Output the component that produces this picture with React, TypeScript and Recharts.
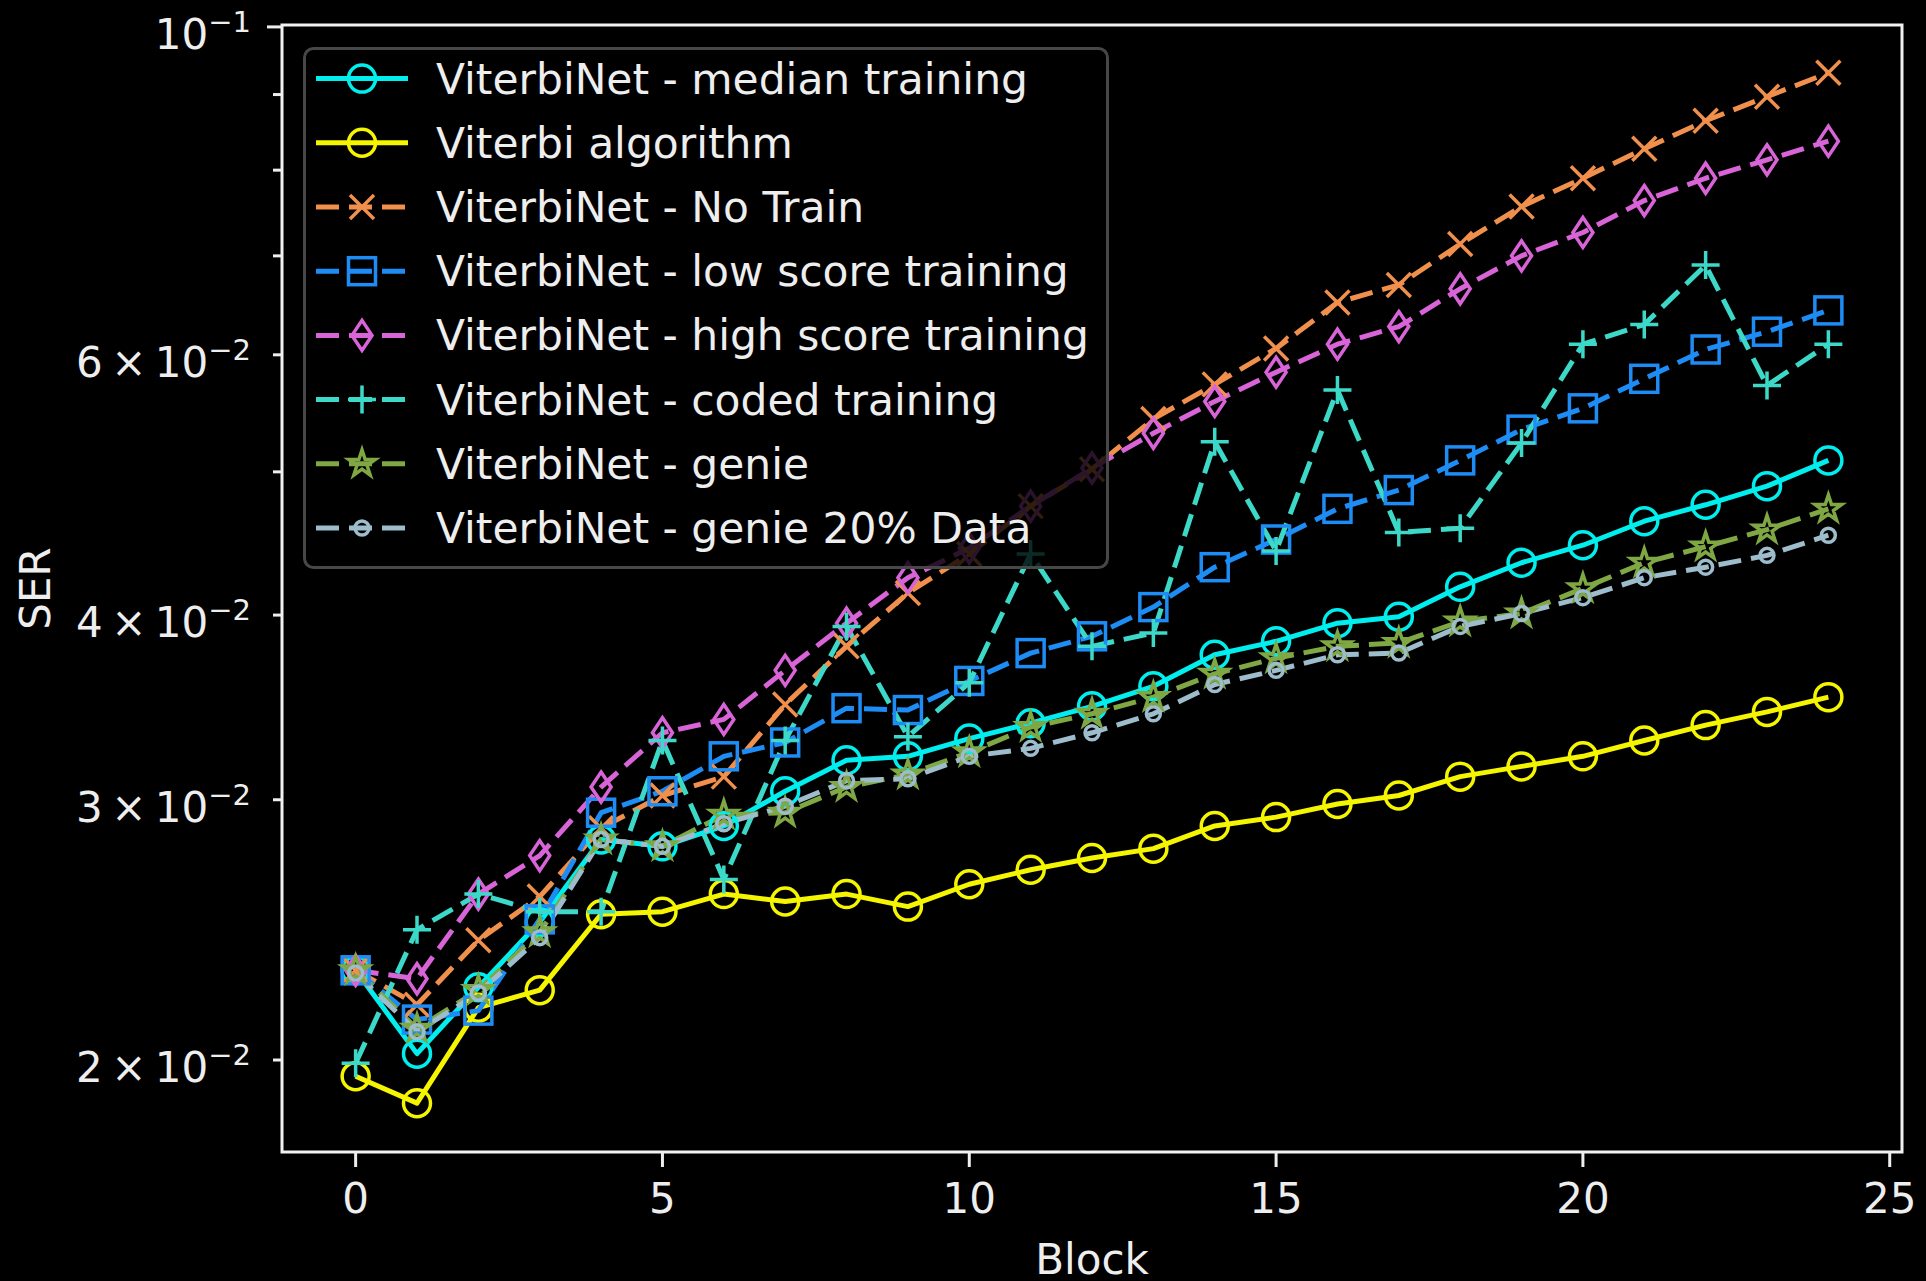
import React from "react";
import { LineChart, Line, XAxis, YAxis, ReferenceArea, Legend, Label } from "recharts";

const blocks = [0, 1, 2, 3, 4, 5, 6, 7, 8, 9, 10, 11, 12, 13, 14, 15, 16, 17, 18, 19, 20, 21, 22, 23, 24];

const medianTraining = [0.023, 0.0202, 0.0224, 0.0248, 0.0282, 0.0279, 0.0288, 0.0304, 0.0319, 0.0321, 0.033, 0.0338, 0.0347, 0.0358, 0.0376, 0.0384, 0.0395, 0.0399, 0.0418, 0.0434, 0.0446, 0.0463, 0.0475, 0.0489, 0.0509];
const viterbiAlgorithm = [0.0195, 0.0187, 0.0217, 0.0223, 0.0251, 0.0252, 0.0259, 0.0256, 0.0259, 0.0254, 0.0263, 0.0269, 0.0274, 0.0278, 0.0288, 0.0292, 0.0298, 0.0302, 0.0311, 0.0316, 0.0321, 0.0329, 0.0337, 0.0344, 0.0352];
const noTrain = [0.023, 0.0218, 0.0241, 0.0258, 0.0287, 0.0302, 0.0311, 0.0348, 0.0381, 0.0414, 0.044, 0.0474, 0.0502, 0.0543, 0.0573, 0.0606, 0.0651, 0.0669, 0.0713, 0.0756, 0.079, 0.0827, 0.0864, 0.0897, 0.0931];
const lowScore = [0.023, 0.0213, 0.0216, 0.0249, 0.0294, 0.0304, 0.0321, 0.0328, 0.0346, 0.0345, 0.0361, 0.0377, 0.0387, 0.0405, 0.0431, 0.045, 0.0472, 0.0486, 0.0509, 0.0534, 0.0552, 0.0578, 0.0605, 0.0622, 0.0643];
const highScore = [0.023, 0.0227, 0.0259, 0.0275, 0.0306, 0.0333, 0.034, 0.0367, 0.0395, 0.0424, 0.0444, 0.0474, 0.0503, 0.0531, 0.0558, 0.0584, 0.061, 0.0627, 0.0665, 0.07, 0.0726, 0.0763, 0.079, 0.0813, 0.0837];
const codedTraining = [0.0199, 0.0245, 0.0259, 0.0252, 0.0252, 0.0329, 0.0265, 0.0329, 0.0393, 0.0331, 0.036, 0.044, 0.0381, 0.0389, 0.0524, 0.0442, 0.0568, 0.0455, 0.0458, 0.0523, 0.061, 0.0629, 0.069, 0.0572, 0.061];
const genie = [0.023, 0.021, 0.0223, 0.0244, 0.0282, 0.0279, 0.0293, 0.0294, 0.0306, 0.0312, 0.0323, 0.0336, 0.0343, 0.0352, 0.0365, 0.0374, 0.0381, 0.0383, 0.0396, 0.0401, 0.0417, 0.0434, 0.0445, 0.0457, 0.0472];
const genie20 = [0.0229, 0.0209, 0.0222, 0.0242, 0.0282, 0.0279, 0.0289, 0.0297, 0.0309, 0.031, 0.0321, 0.0325, 0.0333, 0.0343, 0.0359, 0.0367, 0.0376, 0.0377, 0.0393, 0.0401, 0.0411, 0.0424, 0.0431, 0.0439, 0.0453];

const xTicks = [0, 5, 10, 15, 20, 25];
const yTicks = [0.02, 0.03, 0.04, 0.05, 0.06, 0.07, 0.08, 0.09, 0.1];
// [mantissa text, exponent] or null for unlabelled minor ticks
const yTickLabels: ([string, string] | null)[] = [
  ["2\u2009×\u200910", "−2"],
  ["3\u2009×\u200910", "−2"],
  ["4\u2009×\u200910", "−2"],
  null,
  ["6\u2009×\u200910", "−2"],
  null,
  null,
  null,
  ["10", "−1"],
];

const X_DOMAIN = [-1.2, 25.2];
const Y_DOMAIN = [0.01733, 0.1003];

const FONT = "'DejaVu Sans', Verdana, sans-serif";
const FG = "#eeeeee";

type MarkerKind = "circle" | "x" | "square" | "diamond" | "plus" | "star" | "dot";

const SERIES: { key: string; name: string; color: string; dashed: boolean; marker: MarkerKind; values: number[] }[] = [
  { key: "median", name: "ViterbiNet - median training", color: "#00eeee", dashed: false, marker: "circle", values: medianTraining },
  { key: "viterbi", name: "Viterbi algorithm", color: "#f5f500", dashed: false, marker: "circle", values: viterbiAlgorithm },
  { key: "noTrain", name: "ViterbiNet - No Train", color: "#f0904c", dashed: true, marker: "x", values: noTrain },
  { key: "low", name: "ViterbiNet - low score training", color: "#1e8cf5", dashed: true, marker: "square", values: lowScore },
  { key: "high", name: "ViterbiNet - high score training", color: "#d864d8", dashed: true, marker: "diamond", values: highScore },
  { key: "coded", name: "ViterbiNet - coded training", color: "#3cd8c8", dashed: true, marker: "plus", values: codedTraining },
  { key: "genie", name: "ViterbiNet - genie", color: "#7fa743", dashed: true, marker: "star", values: genie },
  { key: "genie20", name: "ViterbiNet - genie 20% Data", color: "#9dbccc", dashed: true, marker: "dot", values: genie20 },
];

const rows = blocks.map((b, i) => {
  const r: Record<string, number> = { block: b };
  SERIES.forEach((s) => {
    r[s.key] = s.values[i];
  });
  return r;
});

function starPoints(cx: number, cy: number, R: number) {
  const r = R * 0.382;
  const pts: string[] = [];
  for (let k = 0; k < 10; k++) {
    const rad = k % 2 === 0 ? R : r;
    const a = -Math.PI / 2 + (k * Math.PI) / 5;
    pts.push(`${cx + rad * Math.cos(a)},${cy + rad * Math.sin(a)}`);
  }
  return pts.join(" ");
}

function Marker({ kind, cx, cy, color }: { kind: MarkerKind; cx: number; cy: number; color: string }) {
  const sw = 3.5;
  const common = { fill: "none", stroke: color, strokeWidth: sw };
  switch (kind) {
    case "circle":
      return <circle cx={cx} cy={cy} r={13.5} {...common} />;
    case "dot":
      return <circle cx={cx} cy={cy} r={7} {...common} />;
    case "square":
      return <rect x={cx - 13.5} y={cy - 13.5} width={27} height={27} {...common} />;
    case "diamond":
      return <polygon points={`${cx},${cy - 15} ${cx + 10},${cy} ${cx},${cy + 15} ${cx - 10},${cy}`} {...common} />;
    case "x":
      return <path d={`M${cx - 12},${cy - 12}L${cx + 12},${cy + 12}M${cx - 12},${cy + 12}L${cx + 12},${cy - 12}`} {...common} />;
    case "plus":
      return <path d={`M${cx - 14},${cy}L${cx + 14},${cy}M${cx},${cy - 14}L${cx},${cy + 14}`} {...common} />;
    case "star":
      return <polygon points={starPoints(cx, cy, 14)} {...common} strokeLinejoin="miter" />;
  }
  return null;
}

function XTick(props: any) {
  const { x, y, payload } = props;
  return (
    <g>
      <line x1={x} x2={x} y1={y} y2={y + 15} stroke={FG} strokeWidth={3} />
      <text x={x} y={y + 61} textAnchor="middle" fontSize={42} fill={FG} fontFamily={FONT}>
        {payload.value}
      </text>
    </g>
  );
}

function YTick(props: any) {
  const { x, y, payload } = props;
  const idx = yTicks.findIndex((t) => Math.abs(t - payload.value) < 1e-9);
  const major = Math.abs(payload.value - 0.1) < 1e-9;
  const len = major ? 15 : 9;
  const lab = idx >= 0 ? yTickLabels[idx] : null;
  return (
    <g>
      <line x1={x - len} x2={x} y1={y} y2={y} stroke={FG} strokeWidth={3} />
      {lab && (
        <text x={x - 31} y={y + 22} textAnchor="end" fontSize={42} fill={FG} fontFamily={FONT}>
          <tspan>{lab[0]}</tspan>
          <tspan fontSize={29} dy={-17}>
            {lab[1]}
          </tspan>
        </text>
      )}
    </g>
  );
}

function SerLabel(props: any) {
  const vb = props.viewBox || { x: 0, y: 25, width: 282, height: 1127 };
  const cy = vb.y + vb.height / 2;
  const x = 50;
  return (
    <text x={x} y={cy} transform={`rotate(-90, ${x}, ${cy})`} textAnchor="middle" fontSize={42} fill={FG} fontFamily={FONT}>
      SER
    </text>
  );
}

function LegendBox() {
  const rowY = (i: number) => 31.6 + 64.2 * i;
  return (
    <svg width={806} height={522} style={{ display: "block" }}>
      <rect x={1.5} y={1.5} width={803} height={519} rx={9} fill="rgba(0,0,0,0.8)" stroke="#474747" strokeWidth={3} />
      {SERIES.map((s, i) => {
        const cy = rowY(i);
        return (
          <g key={s.key}>
            <line
              x1={13}
              x2={105}
              y1={cy}
              y2={cy}
              stroke={s.color}
              strokeWidth={5}
              strokeDasharray={s.dashed ? "23 10" : undefined}
            />
            <Marker kind={s.marker} cx={59} cy={cy} color={s.color} />
            <text x={133} y={cy + 15} fontSize={42.4} fill={FG} fontFamily={FONT}>
              {s.name}
            </text>
          </g>
        );
      })}
    </svg>
  );
}

export default function App() {
  return (
    <div style={{ width: 1926, height: 1281, background: "#000" }}>
      <style>{"body{margin:0;background:#000;}"}</style>
      <LineChart width={1926} height={1281} data={rows} margin={{ top: 25, right: 24, bottom: 0, left: 0 }}>
        <XAxis
          dataKey="block"
          type="number"
          domain={X_DOMAIN}
          allowDataOverflow
          ticks={xTicks}
          interval={0}
          height={129}
          tickSize={0}
          tickMargin={0}
          axisLine={false}
          tickLine={false}
          tick={<XTick />}
        >
          <Label value="Block" position="insideBottom" offset={7} fontSize={42} fill={FG} fontFamily={FONT} />
        </XAxis>
        <YAxis
          type="number"
          scale="log"
          domain={Y_DOMAIN}
          allowDataOverflow
          ticks={yTicks}
          interval={0}
          width={282}
          tickSize={0}
          tickMargin={0}
          axisLine={false}
          tickLine={false}
          tick={<YTick />}
        >
          <Label content={<SerLabel />} />
        </YAxis>
        <ReferenceArea
          x1={X_DOMAIN[0]}
          x2={X_DOMAIN[1]}
          y1={Y_DOMAIN[0]}
          y2={Y_DOMAIN[1]}
          fill="none"
          fillOpacity={0}
          stroke="#f2f2f2"
          strokeWidth={3}
          ifOverflow="visible"
        />
        {SERIES.map((s) => (
          <Line
            key={s.key}
            dataKey={s.key}
            name={s.name}
            type="linear"
            stroke={s.color}
            strokeWidth={5}
            strokeDasharray={s.dashed ? "23 10" : undefined}
            strokeLinejoin="round"
            isAnimationActive={false}
            activeDot={false}
            dot={(p: any) => <Marker key={`${s.key}-${p.index}`} kind={s.marker} cx={p.cx} cy={p.cy} color={s.color} />}
          />
        ))}
        <Legend
          layout="vertical"
          align="center"
          verticalAlign="middle"
          wrapperStyle={{ left: 303, top: 47, width: 806, height: 522 }}
          content={<LegendBox />}
        />
      </LineChart>
    </div>
  );
}
